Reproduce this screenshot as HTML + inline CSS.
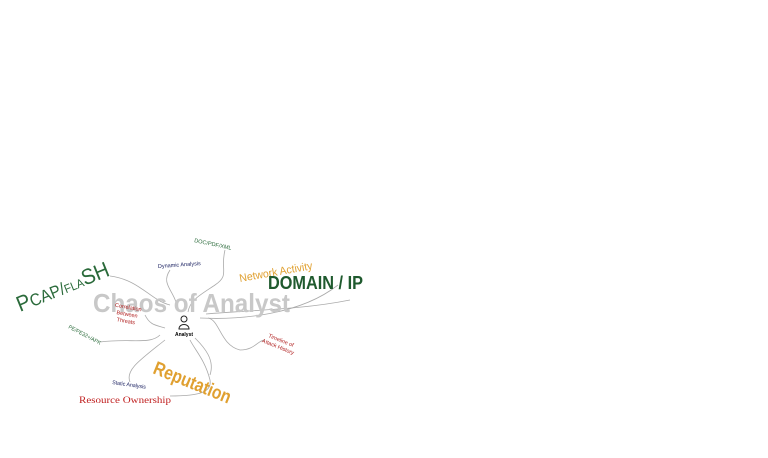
<!DOCTYPE html>
<html><head><style>body{margin:0;background:#fff}svg{display:block}</style></head>
<body>
<svg width="768" height="458" xmlns="http://www.w3.org/2000/svg" font-family="Liberation Sans, sans-serif">
<g fill="none" stroke="#aaa" stroke-width="0.8">
<path d="M110 276 C140 280 150 300 170 305"/>
<path d="M170 270 C160 285 175 290 178 310"/>
<path d="M225 250 C220 270 230 275 215 285 C200 295 190 300 188 312"/>
<path d="M200 318 C240 320 300 315 338 285"/>
<path d="M206 314 C250 310 300 310 350 300"/>
<path d="M208 318 C220 320 220 345 240 350 C255 350 258 340 265 340"/>
<path d="M145 315 C150 325 155 325 165 328"/>
<path d="M100 342 C130 338 150 345 160 335"/>
<path d="M130 382 C125 370 140 360 165 340"/>
<path d="M190 340 C195 350 205 360 210 380 C212 392 200 396 170 396"/>
<path d="M195 338 C205 348 215 360 210 375"/>
</g>
<text x="93" y="312" font-size="26" font-weight="bold" fill="#c8c8c8" textLength="197" lengthAdjust="spacingAndGlyphs">Chaos of Analyst</text>
<text transform="translate(20,312) rotate(-22)" font-size="22" fill="#2a6a3a" textLength="98" lengthAdjust="spacingAndGlyphs">P<tspan font-size="17">CAP/</tspan><tspan font-size="12">FLA</tspan>SH</text>
<text transform="translate(240,282) rotate(-10)" font-size="11" fill="#e0a030" textLength="74" lengthAdjust="spacingAndGlyphs">Network Activity</text>
<text x="268" y="289" font-size="18" font-weight="bold" fill="#1f5a2e" textLength="95" lengthAdjust="spacingAndGlyphs">DOMAIN / IP</text>
<text transform="translate(194,242) rotate(12)" font-size="5.5" fill="#2a6a3a" textLength="38" lengthAdjust="spacingAndGlyphs">DOC/PDF/XML</text>
<text transform="translate(158,268) rotate(-4)" font-size="5.5" fill="#1a2060" textLength="43" lengthAdjust="spacingAndGlyphs">Dynamic Analysis</text>
<g transform="translate(128,309) rotate(10)" font-size="5.5" fill="#b02020" text-anchor="middle"><text>Correlation</text><text y="7">Between</text><text y="14">Threats</text></g>
<g transform="translate(184,322)" fill="none" stroke="#222" stroke-width="1"><circle cx="0" cy="-3" r="3"/><path d="M-5 7 C-5 1 5 1 5 7 Z"/></g>
<text x="184" y="336" text-anchor="middle" font-size="5" font-weight="bold">Analyst</text>
<text transform="translate(68,328) rotate(28)" font-size="5.5" fill="#2a6a3a" textLength="36" lengthAdjust="spacingAndGlyphs">PE/PE32+/APK</text>
<g transform="translate(268,337) rotate(22)" font-size="5.5" fill="#b02020"><text>Timeline of</text><text x="-4" y="7">Attack History</text></g>
<text transform="translate(152,373) rotate(22)" font-size="19" font-weight="bold" fill="#e0a030" textLength="82" lengthAdjust="spacingAndGlyphs">Reputation</text>
<text transform="translate(112,384) rotate(8)" font-size="5.5" fill="#1a2060" textLength="34" lengthAdjust="spacingAndGlyphs">Static Analysis</text>
<text x="79" y="403" font-family="Liberation Serif, serif" font-size="9.5" fill="#c02020" textLength="92" lengthAdjust="spacingAndGlyphs">Resource Ownership</text>
</svg>
</body></html>
